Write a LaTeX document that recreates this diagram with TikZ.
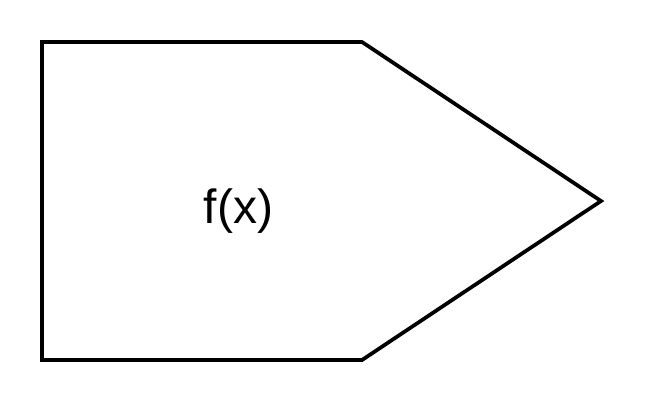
\documentclass[tikz,border=0pt]{standalone}
\usepackage{fontspec}
\setmainfont{Liberation Sans}
\begin{document}
\begin{tikzpicture}[x=0.75pt,y=-0.75pt,
  shapeline/.style={draw=black,line width=2.8pt,line join=miter},
  lbl/.style={font=\fontsize{36}{40}\selectfont,inner sep=0pt}]
\useasboundingbox (0,0) rectangle (648,408);
\fill[white] (0,0) rectangle (648,408);
\coordinate (p1) at (42,42);
\coordinate (p2) at (362,42);
\coordinate (p3) at (601,201);
\coordinate (p4) at (362,360);
\coordinate (p5) at (42,360);
\draw[shapeline] (p1) -- (p2) -- (p3) -- (p4) -- (p5) -- cycle;
\node[lbl] (t) at (238.5,211) {f(x)};
\end{tikzpicture}
\end{document}
